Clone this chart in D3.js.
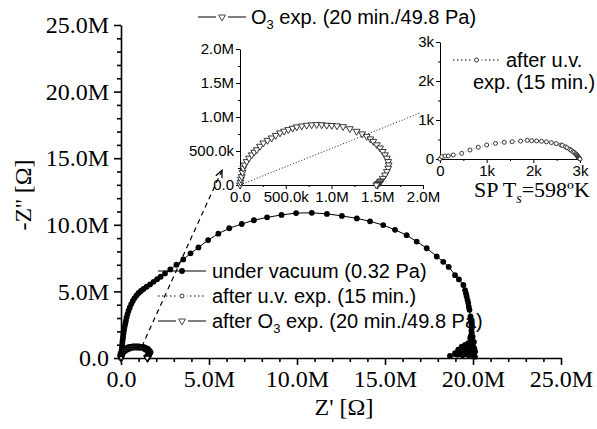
<!DOCTYPE html>
<html><head><meta charset="utf-8">
<script src="https://cdn.jsdelivr.net/npm/d3@7/dist/d3.min.js"></script>
<style>body{margin:0;background:#fff}svg{display:block}</style>
</head><body><svg id="c" width="597" height="429"></svg>
<script>
// ---------- DATA (Z' , -Z'') ----------
// under vacuum (0.32 Pa), values in MΩ
const vacuum = [
[0.00,0.00],[0.01,0.12],[0.02,0.28],[0.03,0.45],[0.04,0.62],[0.05,0.80],[0.07,1.00],[0.08,1.20],
[0.10,1.40],[0.12,1.62],[0.14,1.85],[0.17,2.08],[0.20,2.32],[0.24,2.56],[0.28,2.80],[0.32,3.05],
[0.37,3.30],[0.43,3.55],[0.50,3.80],[0.58,4.05],[0.67,4.28],[0.77,4.50],[0.88,4.70],[1.00,4.88],
[1.13,5.03],[1.28,5.18],[1.46,5.35],[1.65,5.52],[1.85,5.72],[2.05,5.92],[2.25,6.10],[2.50,6.35],
[2.80,6.65],[3.15,7.00],[3.54,7.40],[3.95,7.85],[4.40,8.30],[4.95,8.85],[5.53,9.33],[6.15,9.74],
[6.86,10.06],[7.55,10.34],[8.30,10.56],[9.12,10.74],[9.95,10.88],[10.84,10.90],[11.70,10.82],
[12.55,10.67],[13.40,10.48],[14.15,10.26],[14.90,9.98],[15.57,9.62],[16.23,9.22],[16.80,8.74],
[17.37,8.24],[17.94,7.62],[18.31,7.22],[18.62,6.84],[18.98,6.22],[19.20,5.90],[19.45,5.48],
[19.55,5.10],[19.60,4.85],[19.64,4.62],[19.69,4.35],[19.73,4.12],[19.76,3.85],[19.80,3.62],
[19.86,3.12],[19.88,2.85],[19.90,2.62],[19.92,2.45],[19.93,2.25],[19.91,2.05],[19.93,1.88],
[19.89,1.70],[19.98,1.60],[19.84,1.50],[19.90,1.35],[20.05,1.20],[19.73,1.12],[19.95,1.00],
[19.55,0.98],[19.85,0.95],[19.36,0.86],[20.02,0.86],[19.60,0.75],[19.80,0.70],[20.08,0.70],
[19.16,0.62],[19.95,0.60],[19.50,0.55],[19.70,0.55],[20.12,0.48],[19.25,0.45],[19.64,0.38],
[18.98,0.36],[19.85,0.30],[19.30,0.30],[19.10,0.25],[19.40,0.20],[19.75,0.20],[20.00,0.20],
[18.69,0.15],[20.11,0.10]
];
// after O3 exp. (20 min./49.8 Pa), values in MΩ
const ozone = [
[0.000,0.000],[0.005,0.040],[0.010,0.085],[0.019,0.123],[0.027,0.185],[0.036,0.247],[0.050,0.295],
[0.073,0.345],[0.098,0.395],[0.128,0.444],[0.155,0.482],[0.183,0.519],[0.218,0.570],[0.255,0.618],
[0.300,0.657],[0.346,0.692],[0.390,0.730],[0.437,0.766],[0.482,0.792],[0.528,0.815],[0.575,0.836],
[0.620,0.855],[0.675,0.868],[0.729,0.879],[0.783,0.885],[0.838,0.889],[0.893,0.886],[0.948,0.879],
[1.003,0.876],[1.060,0.870],[1.126,0.858],[1.200,0.828],[1.275,0.790],[1.335,0.752],[1.385,0.716],
[1.425,0.678],[1.457,0.641],[1.495,0.592],[1.530,0.544],[1.560,0.494],[1.585,0.444],[1.605,0.395],
[1.620,0.345],[1.625,0.296],[1.620,0.247],[1.605,0.197],[1.585,0.148],[1.560,0.098],[1.540,0.060],
[1.530,0.049],[1.520,0.030],[1.510,0.020],[1.500,0.010],[1.490,0.000]
];
// after u.v. exp. (15 min.), values in kΩ
const uv = [
[0.000,0.000],[0.036,0.059],[0.107,0.077],[0.178,0.077],[0.285,0.103],[0.465,0.146],[0.642,0.231],
[0.820,0.300],[1.000,0.359],[1.190,0.400],[1.377,0.428],[1.548,0.444],[1.728,0.460],[1.870,0.478],
[1.964,0.470],[2.070,0.462],[2.175,0.455],[2.280,0.440],[2.385,0.420],[2.490,0.395],[2.590,0.360],
[2.620,0.350],[2.690,0.312],[2.720,0.290],[2.780,0.250],[2.810,0.225],[2.850,0.190],[2.870,0.170],
[2.900,0.140],[2.920,0.115],[2.930,0.100],[2.945,0.080],[2.955,0.065],[2.965,0.050],[2.975,0.035],
[2.980,0.020],[2.990,0.012],[3.000,0.000]
];
// ticks
const mainTicks = [0,5,10,15,20,25];
const mainTickLabels = ["0.0","5.0M","10.0M","15.0M","20.0M","25.0M"];
const inset1Ticks = [0,0.5,1,1.5,2];
const inset1TickLabels = ["0.0","500.0k","1.0M","1.5M","2.0M"];
const inset2Ticks = [0,1,2,3];
const inset2TickLabels = ["0","1k","2k","3k"];
const legendLabels = ["under vacuum (0.32 Pa)","after u.v. exp. (15 min.)","after O3 exp. (20 min./49.8 Pa)"];

// ---------- DRAW ----------
const svg = d3.select("#c");
const SERIF = "'Liberation Serif','Times New Roman',serif";
const SANS = "'Liberation Sans',Arial,sans-serif";

function drawAxes(g, x, y, opt){
  const xa = g.append("g").attr("transform",`translate(0,${y.range()[0]})`)
    .call(d3.axisBottom(x).tickValues(opt.ticks).tickFormat((d,i)=>opt.labels[i])
      .tickSize(opt.major).tickSizeOuter(0).tickPadding(opt.pad));
  const ya = g.append("g").attr("transform",`translate(${x.range()[0]},0)`)
    .call(d3.axisLeft(y).tickValues(opt.ticks).tickFormat((d,i)=>opt.labels[i])
      .tickSize(opt.major).tickSizeOuter(0).tickPadding(opt.pad));
  g.append("g").attr("transform",`translate(0,${y.range()[0]})`)
    .call(d3.axisBottom(x).tickValues(opt.minor).tickFormat("").tickSize(opt.minorSize).tickSizeOuter(0))
    .select(".domain").remove();
  g.append("g").attr("transform",`translate(${x.range()[0]},0)`)
    .call(d3.axisLeft(y).tickValues(opt.minor).tickFormat("").tickSize(opt.minorSize).tickSizeOuter(0))
    .select(".domain").remove();
  [xa,ya].forEach(a=>{
    a.selectAll("text").attr("font-family",opt.font).attr("font-size",opt.fs).attr("fill","#000");
  });
  g.selectAll("path.domain").attr("stroke","#000").attr("stroke-width",opt.sw);
  g.selectAll(".tick line").attr("stroke","#000").attr("stroke-width",opt.sw);
}

// ---- main plot ----
const mx = d3.scaleLinear().domain([0,25]).range([121,561]);
const my = d3.scaleLinear().domain([0,25]).range([358,25]);
const gm = svg.append("g");
drawAxes(gm, mx, my, {ticks:mainTicks, labels:mainTickLabels, major:7, minorSize:4, pad:5,
  minor:d3.range(0,26).filter(v=>v%5), font:SERIF, fs:24, sw:1.6});

const line = (x,y)=>d3.line().x(d=>x(d[0])).y(d=>y(d[1]));
const triDown = d3.symbol().type(d3.symbolTriangle);

// vacuum series
gm.append("path").datum(vacuum).attr("d",line(mx,my)).attr("fill","none").attr("stroke","#000").attr("stroke-width",1);
gm.selectAll("circle.vac").data(vacuum).join("circle").attr("class","vac")
  .attr("cx",d=>mx(d[0])).attr("cy",d=>my(d[1])).attr("r",2.9).attr("fill","#000");
// ozone series on main scale
gm.append("path").datum(ozone).attr("d",line(mx,my)).attr("fill","none").attr("stroke","#000").attr("stroke-width",1).attr("stroke-dasharray","5,3");
gm.selectAll("path.oz").data(ozone).join("path").attr("class","oz")
  .attr("d",triDown.size(16)).attr("transform",d=>`translate(${mx(d[0])},${my(d[1])}) rotate(180)`)
  .attr("fill","#fff").attr("stroke","#000").attr("stroke-width",1.2);
// uv series on main scale (kΩ -> MΩ)
gm.selectAll("circle.uvm").data(uv).join("circle").attr("class","uvm")
  .attr("cx",d=>mx(d[0]/1000)).attr("cy",d=>my(d[1]/1000)).attr("r",1.5).attr("fill","#fff").attr("stroke","#000");

// dashed arrow to inset
const arrowFrom=[1.18,0.85], arrowTo=[5.74,14.1];
svg.append("defs").append("marker").attr("id","ah").attr("viewBox","0 0 10 10").attr("refX",9).attr("refY",5)
  .attr("markerWidth",7).attr("markerHeight",7).attr("orient","auto")
  .append("path").attr("d","M0,1 L9,5 L0,9").attr("fill","none").attr("stroke","#000").attr("stroke-width",1.5);
gm.append("line").attr("x1",mx(arrowFrom[0])).attr("y1",my(arrowFrom[1])).attr("x2",mx(arrowTo[0])).attr("y2",my(arrowTo[1]))
  .attr("stroke","#000").attr("stroke-width",1.2).attr("stroke-dasharray","5,4").attr("marker-end","url(#ah)");

// axis titles
svg.append("text").attr("x",344).attr("y",415).attr("text-anchor","middle").attr("font-family",SERIF).attr("font-size",24).text("Z' [Ω]");
svg.append("text").attr("transform","translate(31,195) rotate(-90)").attr("text-anchor","middle").attr("font-family",SERIF).attr("font-size",24).text("-Z'' [Ω]");

// ---- inset 1 (O3) ----
const ax = d3.scaleLinear().domain([0,2]).range([240,423]);
const ay = d3.scaleLinear().domain([0,2]).range([185,49]);
const g1 = svg.append("g");
drawAxes(g1, ax, ay, {ticks:inset1Ticks, labels:inset1TickLabels, major:4, minorSize:2, pad:2,
  minor:[0.25,0.75,1.25,1.75], font:SANS, fs:15, sw:1});
const connTo=[1.97,1.06];
g1.append("line").attr("x1",ax(0)).attr("y1",ay(0)).attr("x2",ax(connTo[0])).attr("y2",ay(connTo[1]))
  .attr("stroke","#000").attr("stroke-width",0.9).attr("stroke-dasharray","1,2");
g1.append("path").datum(ozone).attr("d",line(ax,ay)).attr("fill","none").attr("stroke","#444").attr("stroke-width",0.6).attr("stroke-dasharray","4,3");
g1.selectAll("path.oz1").data(ozone).join("path").attr("class","oz1")
  .attr("d",triDown.size(20)).attr("transform",d=>`translate(${ax(d[0])},${ay(d[1])}) rotate(180)`)
  .attr("fill","#fff").attr("stroke","#222").attr("stroke-width",0.9);

// ---- inset 2 (uv) ----
const bx = d3.scaleLinear().domain([0,3]).range([440,580]);
const by = d3.scaleLinear().domain([0,3]).range([159,42]);
const g2 = svg.append("g");
drawAxes(g2, bx, by, {ticks:inset2Ticks, labels:inset2TickLabels, major:4, minorSize:2, pad:2,
  minor:[0.5,1.5,2.5], font:SANS, fs:15, sw:1});
g2.append("path").datum(uv).attr("d",line(bx,by)).attr("fill","none").attr("stroke","#555").attr("stroke-width",0.6).attr("stroke-dasharray","1,2");
g2.selectAll("circle.uv2").data(uv).join("circle").attr("class","uv2")
  .attr("cx",d=>bx(d[0])).attr("cy",d=>by(d[1])).attr("r",2).attr("fill","#fff").attr("stroke","#222").attr("stroke-width",0.9);

// ---- legends ----
function legendSym(g, x1, x2, y, type){
  const l = g.append("line").attr("x1",x1).attr("x2",x2).attr("y1",y).attr("y2",y).attr("stroke","#000").attr("stroke-width",1.2);
  const cx=(x1+x2)/2;
  if(type==="vac"){ g.append("circle").attr("cx",cx).attr("cy",y).attr("r",2.9).attr("fill","#000"); }
  if(type==="uv"){ l.attr("stroke-dasharray","1.5,2.5"); g.append("rect").attr("x",cx-5).attr("y",y-3).attr("width",10).attr("height",6).attr("fill","#fff");
    g.append("circle").attr("cx",cx).attr("cy",y).attr("r",2).attr("fill","#fff").attr("stroke","#333"); }
  if(type==="oz"){ l.attr("stroke-dasharray",`${(x2-x1)/2-6},12`); g.append("path").attr("d",triDown.size(20)).attr("transform",`translate(${cx},${y}) rotate(180)`).attr("fill","#fff").attr("stroke","#444"); }
}
function legendText(g, x, y, txt){
  const t = g.append("text").attr("x",x).attr("y",y).attr("dy","0.35em").attr("font-family",SANS).attr("font-size",20).attr("fill","#000");
  const idx = txt.indexOf("O3");
  if(idx>=0){
    t.append("tspan").text(txt.slice(0,idx+1));
    t.append("tspan").attr("font-size",13).attr("dy",5).text("3");
    t.append("tspan").attr("dy",-5).text(txt.slice(idx+2));
  } else t.text(txt);
}
const gl = svg.append("g");
const rows=[271,296,321], types=["vac","uv","oz"];
rows.forEach((y,i)=>{ legendSym(gl,158,206,y,types[i]); legendText(gl,212,y,legendLabels[i]); });
legendSym(gl,198,246,17,"oz"); legendText(gl,251,17,"O3 exp. (20 min./49.8 Pa)");
legendSym(gl,453,500,60,"uv"); legendText(gl,506,60,"after u.v.");
legendText(gl,473,82,"exp. (15 min.)");
// annotation
const ann = svg.append("text").attr("x",474).attr("y",197).attr("font-family",SERIF).attr("font-size",22).attr("fill","#000");
ann.append("tspan").text("SP T");
ann.append("tspan").attr("font-size",14).attr("font-style","italic").attr("dy",6).text("s");
ann.append("tspan").attr("dy",-6).text("=598ºK");
</script></body></html>
